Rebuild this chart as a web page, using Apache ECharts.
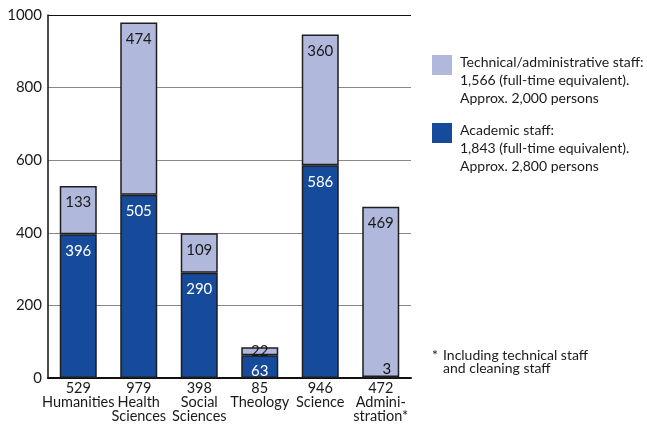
<!DOCTYPE html>
<html>
<head>
<meta charset="utf-8">
<script src="https://cdn.jsdelivr.net/npm/echarts@6/dist/echarts.min.js"></script>
<style>
  html, body { margin: 0; padding: 0; background: #fff; }
  #chart { width: 647px; height: 426px; }
</style>
</head>
<body>
<div id="chart"></div>
<script>
// Staff by faculty (full-time equivalents)
const faculties = ['Humanities', 'Health\nSciences', 'Social\nSciences', 'Theology', 'Science', 'Admini-\nstration*'];
const totals = [529, 979, 398, 85, 946, 472];
const academic = [396, 505, 290, 63, 586, 3];
const technical = [133, 474, 109, 22, 360, 469];
const yTicks = [0, 200, 400, 600, 800, 1000];

const legendTechnical = ['Technical/administrative staff:', '1,566 (full-time equivalent).', 'Approx. 2,000 persons'];
const legendAcademic = ['Academic staff:', '1,843 (full-time equivalent).', 'Approx. 2,800 persons'];
const footnote = ['Including technical staff', 'and cleaning staff'];

const DARK = '#164b9b';
const LIGHT = '#b0b8dc';
const EDGE = '#1e1e1e';
const FONT = 'Lato, "Noto Sans", sans-serif';

const categories = faculties.map((f, i) => totals[i] + '\n' + f);

// small segments get their label placed differently so it stays readable
const academicData = academic.map((v, i) => {
  if (v < 10) {
    return { value: v, label: { position: 'top', distance: 0, offset: [6, 0], color: '#111' } };
  }
  return v;
});
const technicalData = technical.map(v => {
  if (v < 40) {
    return { value: v, label: { position: 'inside' } };
  }
  return v;
});

const chart = echarts.init(document.getElementById('chart'), null, { renderer: 'canvas' });

chart.setOption({
  animation: false,
  backgroundColor: '#fff',
  textStyle: { fontFamily: FONT },
  grid: { left: 48, right: 236, top: 15, bottom: 48 },
  xAxis: {
    type: 'category',
    data: categories,
    axisLine: { show: true, lineStyle: { color: '#111', width: 2 } },
    axisTick: { show: false },
    axisLabel: {
      color: '#1a1a1a', fontSize: 14.5, fontFamily: FONT, lineHeight: 14, margin: 3, interval: 0
    }
  },
  yAxis: {
    type: 'value',
    min: yTicks[0],
    max: yTicks[yTicks.length - 1],
    interval: 200,
    axisLine: { show: true, lineStyle: { color: '#111', width: 1.5 } },
    axisTick: { show: false },
    axisLabel: { color: '#1a1a1a', fontSize: 15, fontFamily: FONT, margin: 6, formatter: v => String(v) },
    splitLine: {
      show: true,
      lineStyle: { color: ['#888', '#888', '#888', '#888', '#888', '#111'], width: 1.2 }
    }
  },
  series: [
    {
      name: 'Academic staff',
      type: 'bar',
      stack: 'staff',
      barWidth: 37,
      data: academicData,
      itemStyle: { color: DARK, borderColor: EDGE, borderWidth: 1.5 },
      label: {
        show: true, position: 'insideTop', distance: 9,
        color: '#fff', fontSize: 15, fontFamily: FONT
      }
    },
    {
      name: 'Technical/administrative staff',
      type: 'bar',
      stack: 'staff',
      barWidth: 37,
      data: technicalData,
      itemStyle: { color: LIGHT, borderColor: EDGE, borderWidth: 1.5 },
      label: {
        show: true, position: 'insideTop', distance: 9,
        color: '#1a1a1a', fontSize: 15, fontFamily: FONT
      }
    }
  ],
  graphic: [
    { type: 'rect', left: 432, top: 55, shape: { width: 20, height: 20 }, style: { fill: LIGHT } },
    {
      type: 'text', left: 460, top: 53,
      style: { text: legendTechnical.join('\n'), fill: '#1a1a1a', font: '14px ' + FONT, lineHeight: 18 }
    },
    { type: 'rect', left: 432, top: 123, shape: { width: 20, height: 20 }, style: { fill: DARK } },
    {
      type: 'text', left: 460, top: 121,
      style: { text: legendAcademic.join('\n'), fill: '#1a1a1a', font: '14px ' + FONT, lineHeight: 18 }
    },
    {
      type: 'text', left: 432, top: 348,
      style: { text: '*', fill: '#1a1a1a', font: '14px ' + FONT }
    },
    {
      type: 'text', left: 443, top: 348,
      style: { text: footnote.join('\n'), fill: '#1a1a1a', font: '14px ' + FONT, lineHeight: 13 }
    }
  ]
});
</script>
</body>
</html>
